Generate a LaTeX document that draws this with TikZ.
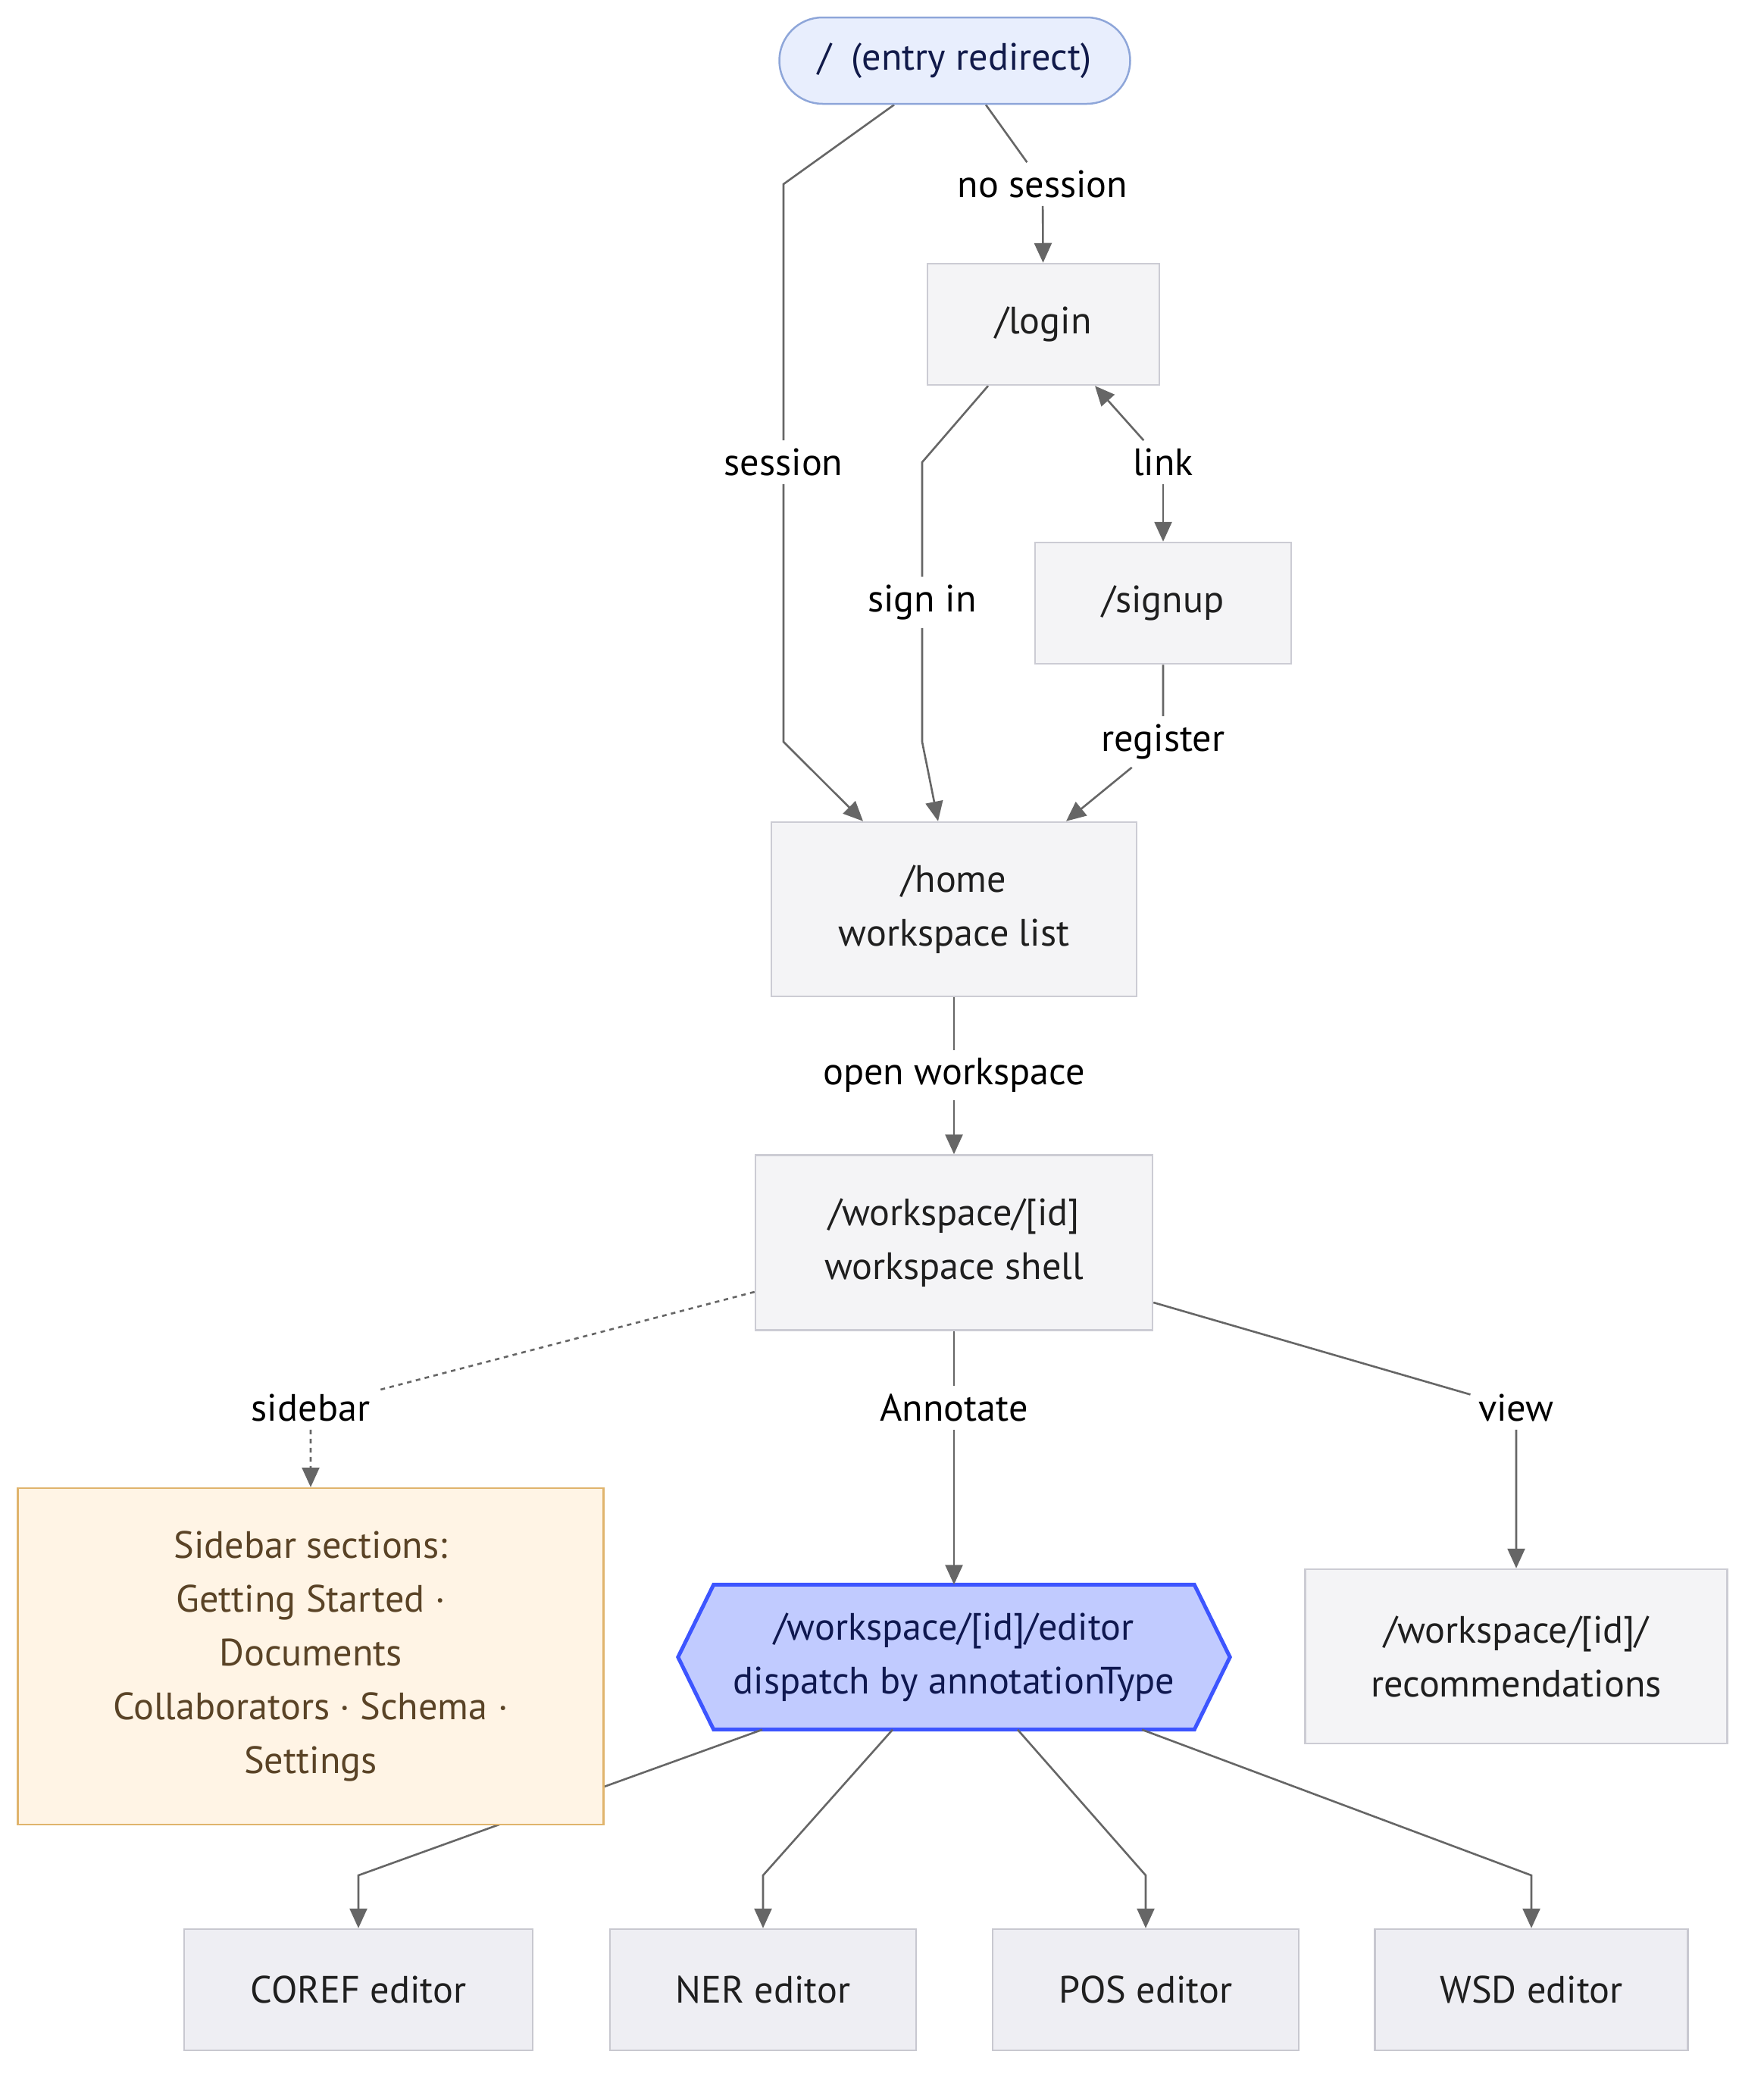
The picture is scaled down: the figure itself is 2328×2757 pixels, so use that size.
\documentclass[tikz,border=0pt]{standalone}
\usepackage{fontspec}
\setmainfont{PT Sans}
\usetikzlibrary{arrows.meta,backgrounds}

\definecolor{edgegray}{HTML}{666666}
\definecolor{boxfill}{HTML}{F4F4F6}
\definecolor{boxline}{HTML}{CCCCD4}
\definecolor{edfill}{HTML}{EEEEF3}
\definecolor{edline}{HTML}{C8C8D0}
\definecolor{entryfill}{HTML}{E8EEFD}
\definecolor{entryline}{HTML}{8EA6D9}
\definecolor{entrytext}{HTML}{111A4A}
\definecolor{sidefill}{HTML}{FFF4E5}
\definecolor{sideline}{HTML}{E0B46C}
\definecolor{sidetext}{HTML}{5A4326}
\definecolor{hexfill}{HTML}{C1CBFF}
\definecolor{hexline}{HTML}{3D55FF}
\definecolor{hextext}{HTML}{0F1850}

\tikzset{
  every node/.style={font=\fontsize{14.3}{20.2}\selectfont, align=center, inner sep=0pt},
  page/.style={draw=boxline, fill=boxfill, line width=0.25mm, text=black!88},
  editorbox/.style={draw=edline, fill=edfill, line width=0.25mm, text=black!88,
    minimum height=16mm},
  entrybox/.style={draw=entryline, fill=entryfill, line width=0.25mm, text=entrytext,
    rounded corners=5.7mm},
  notebox/.style={draw=sideline, fill=sidefill, line width=0.25mm, text=sidetext},
  hexagon/.style={draw=hexline, fill=hexfill, line width=0.5mm, line join=miter},
  lbl/.style={fill=white, inner sep=1mm, text=black},
  flow/.style={draw=edgegray, line width=0.26mm,
    -{Triangle[length=2.6mm,width=2.3mm]}},
  dots/.style={flow, dash pattern=on 0.6mm off 0.6mm}
}

\begin{document}
\begin{tikzpicture}[x=0.1mm,y=-0.1mm]
  \useasboundingbox (0,0) rectangle (2328,2757);

  % pages
  \node[entrybox, minimum width=46.3mm, minimum height=11.4mm] (entry) at (1260,80) {/\ \ (entry redirect)};
  \node[page, minimum width=30.6mm, minimum height=16mm] (login) at (1377,428) {/login};
  \node[page, minimum width=33.8mm, minimum height=16mm] (signup) at (1535,796) {/signup};
  \node[page, minimum width=48.2mm, minimum height=23mm] (home) at (1259,1200) {/home\\workspace list};
  \node[page, minimum width=52.4mm, minimum height=23.1mm] (ws) at (1259,1640) {/workspace/[id]\\workspace shell};
  \node[notebox, minimum width=77.3mm, minimum height=44.4mm] (sidebar) at (410,2186)
    {Sidebar sections:\\Getting Started ·\\Documents\\Collaborators · Schema ·\\Settings};
  \node[minimum width=63.3mm, minimum height=19mm, text=hextext] (editor) at (1259,2187)
    {/workspace/[id]/editor\\dispatch by annotationType};
  \node[page, minimum width=55.7mm, minimum height=23mm] (recs) at (2001,2186) {/workspace/[id]/\\recommendations};

  % editors
  \node[editorbox, minimum width=46mm] (coref) at (473,2626) {COREF editor};
  \node[editorbox, minimum width=40.4mm] (ner) at (1007,2626) {NER editor};
  \node[editorbox, minimum width=40.4mm] (pos) at (1512,2626) {POS editor};
  \node[editorbox, minimum width=41.3mm] (wsd) at (2021,2626) {WSD editor};

  % edge labels
  \node[lbl] (lnosession) at (1376,243) {no session};
  \node[lbl] (lsession) at (1034,610) {session};
  \node[lbl] (llink) at (1535,610) {link};
  \node[lbl] (lsignin) at (1217,795) {sign in};
  \node[lbl] (lregister) at (1535,979) {register};
  \node[lbl] (lopen) at (1259,1419) {open workspace};
  \node[lbl] (lsidebar) at (410,1858) {sidebar};
  \node[lbl] (lannotate) at (1259,1858) {Annotate};
  \node[lbl] (lview) at (2001,1858) {view};

  \begin{pgfonlayer}{background}
    \draw[hexagon] (editor.north west) -- (editor.north east) -- ([xshift=4.7mm]editor.east)
      -- (editor.south east) -- (editor.south west) -- ([xshift=-4.7mm]editor.west) -- cycle;

    \draw[flow] ([xshift=-8mm]entry.south) -- (1034,243) -- (lsession) -- (1034,979) -- ([xshift=-12mm]home.north);
    \draw[flow] ([xshift=4.1mm]entry.south) -- (lnosession) -- (login);
    \draw[flow] ([xshift=-7.3mm]login.south) -- (1217,610) -- (lsignin) -- (1217,979) -- ([xshift=-2.1mm]home.north);
    \draw[flow] (llink) -- ([xshift=6.8mm]login.south);
    \draw[flow] (llink) -- (signup);
    \draw[flow] (signup) -- (lregister) -- ([xshift=14.8mm]home.north);
    \draw[flow] (home) -- (lopen) -- (ws);
    \draw[dots] ([yshift=-6.5mm]ws.west) -- (lsidebar) -- (sidebar);
    \draw[flow] (ws) -- (lannotate) -- (editor);
    \draw[flow] ([yshift=-7.9mm]ws.east) -- (lview) -- (recs);

    \draw[flow] ([xshift=-25.3mm]editor.south) -- (473,2475) -- (coref);
    \draw[flow] ([xshift=-8.1mm]editor.south) -- (1007,2475) -- (ner);
    \draw[flow] ([xshift=8.4mm]editor.south) -- (1512,2475) -- (pos);
    \draw[flow] ([xshift=24.8mm]editor.south) -- (2021,2475) -- (wsd);
  \end{pgfonlayer}
\end{tikzpicture}
\end{document}
